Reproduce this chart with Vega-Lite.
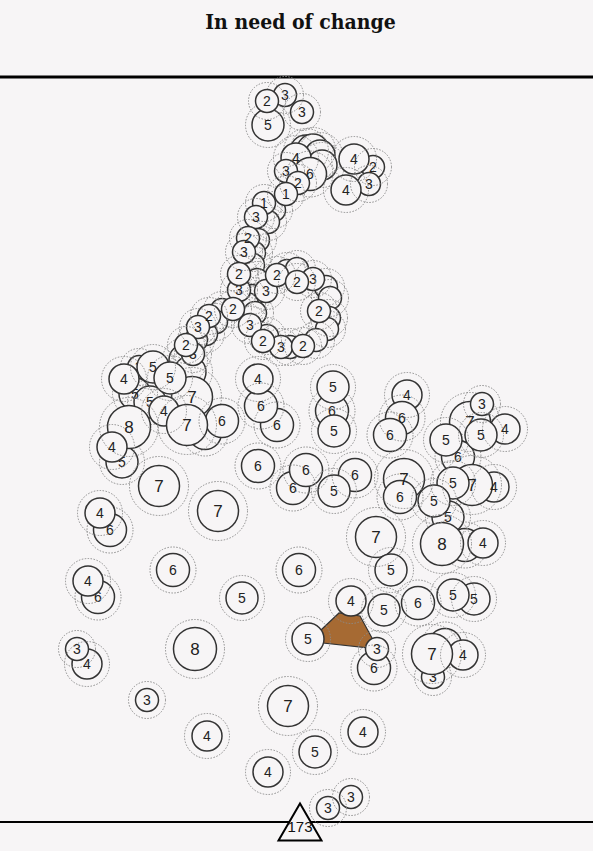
{
  "$schema": "https://vega.github.io/schema/vega-lite/v6.json",
  "width": 593,
  "height": 774,
  "autosize": "none",
  "padding": {"left": 0, "top": 77, "right": 0, "bottom": 0},
  "background": "#f7f5f6",
  "config": {"view": {"stroke": null}},
  "title": {"text": "In need of change", "font": "DejaVu Serif Condensed", "fontWeight": 900, "fontSize": 21, "anchor": "middle", "offset": 42, "dx": 4, "color": "#111"},
  "datasets": {
    "nodes": [
      {"x":285,"y":95,"v":3,"d":1},{"x":268,"y":125,"v":5,"d":1},{"x":302,"y":112,"v":3,"d":1},
      {"x":306,"y":151,"v":5,"d":-1},{"x":313,"y":150,"v":5,"d":-1},{"x":320,"y":155,"v":4,"d":-1},{"x":322,"y":165,"v":4,"d":-1},
      {"x":296,"y":158,"v":4,"d":1},{"x":310,"y":174,"v":6,"d":1},{"x":286,"y":171,"v":3,"d":1},
      {"x":373,"y":167,"v":2,"d":1},{"x":369,"y":184,"v":3,"d":1},{"x":354,"y":159,"v":4,"d":1},{"x":346,"y":190,"v":4,"d":1},
      {"x":274,"y":210,"v":2,"d":-1},{"x":268,"y":222,"v":2,"d":-1},{"x":258,"y":240,"v":2,"d":-1},{"x":254,"y":253,"v":2,"d":-1},{"x":253,"y":265,"v":2,"d":-1},
      {"x":264,"y":203,"v":1,"d":1},{"x":256,"y":217,"v":3,"d":1},{"x":248,"y":238,"v":2,"d":1},{"x":244,"y":252,"v":3,"d":1},{"x":239,"y":274,"v":2,"d":1},
      {"x":257,"y":280,"v":2,"d":-1},{"x":252,"y":296,"v":2,"d":-1},{"x":247,"y":304,"v":2,"d":-1},{"x":255,"y":313,"v":2,"d":-1},{"x":239,"y":290,"v":3,"d":0},
      {"x":287,"y":271,"v":2,"d":-1},{"x":297,"y":269,"v":1,"d":-1},{"x":313,"y":279,"v":3,"d":0},{"x":326,"y":287,"v":2,"d":-1},{"x":330,"y":298,"v":2,"d":-1},
      {"x":329,"y":318,"v":2,"d":-1},{"x":327,"y":329,"v":3,"d":-1},{"x":316,"y":340,"v":2,"d":-1},{"x":290,"y":347,"v":2,"d":-1},{"x":281,"y":347,"v":3,"d":0},
      {"x":267,"y":336,"v":2,"d":-1},{"x":250,"y":325,"v":3,"d":0},{"x":266,"y":291,"v":3,"d":0},
      {"x":277,"y":275,"v":2,"d":1},{"x":297,"y":282,"v":2,"d":1},{"x":319,"y":311,"v":2,"d":1},{"x":263,"y":341,"v":2,"d":1},{"x":303,"y":346,"v":2,"d":1},{"x":233,"y":309,"v":2,"d":1},
      {"x":222,"y":310,"v":2,"d":-1},{"x":216,"y":322,"v":2,"d":-1},{"x":206,"y":334,"v":2,"d":-1},{"x":196,"y":340,"v":2,"d":-1},{"x":193,"y":354,"v":3,"d":0},{"x":185,"y":360,"v":5,"d":-1},{"x":190,"y":372,"v":5,"d":-1},
      {"x":209,"y":316,"v":2,"d":1},{"x":198,"y":327,"v":3,"d":1},{"x":186,"y":345,"v":2,"d":1},
      {"x":139,"y":367,"v":3,"d":0},{"x":135,"y":394,"v":5,"d":0},{"x":150,"y":402,"v":5,"d":0},{"x":192,"y":397,"v":7,"d":0},{"x":205,"y":433,"v":6,"d":-1},{"x":122,"y":462,"v":5,"d":0},
      {"x":153,"y":367,"v":5,"d":1},{"x":124,"y":379,"v":4,"d":1},{"x":170,"y":378,"v":5,"d":1},{"x":129,"y":427,"v":8,"d":1},{"x":164,"y":411,"v":4,"d":1},{"x":222,"y":421,"v":6,"d":1},{"x":187,"y":425,"v":7,"d":1},{"x":112,"y":447,"v":4,"d":1},
      {"x":277,"y":425,"v":6,"d":1},{"x":261,"y":406,"v":6,"d":1},{"x":258,"y":379,"v":4,"d":1},
      {"x":332,"y":411,"v":6,"d":0},{"x":333,"y":387,"v":5,"d":1},{"x":334,"y":431,"v":5,"d":1},
      {"x":407,"y":395,"v":4,"d":1},{"x":402,"y":418,"v":6,"d":1},{"x":390,"y":435,"v":6,"d":1},
      {"x":258,"y":466,"v":6,"d":1},{"x":293,"y":488,"v":6,"d":1},{"x":306,"y":470,"v":6,"d":1},{"x":355,"y":475,"v":6,"d":1},{"x":334,"y":491,"v":5,"d":1},
      {"x":404,"y":479,"v":7,"d":1},{"x":400,"y":497,"v":6,"d":1},
      {"x":470,"y":422,"v":7,"d":0},{"x":458,"y":457,"v":6,"d":0},{"x":448,"y":517,"v":5,"d":0},{"x":465,"y":545,"v":6,"d":-1},{"x":445,"y":645,"v":6,"d":-1},{"x":433,"y":677,"v":3,"d":0},
      {"x":482,"y":404,"v":3,"d":1},{"x":505,"y":429,"v":4,"d":1},{"x":481,"y":435,"v":5,"d":1},{"x":446,"y":440,"v":5,"d":1},{"x":494,"y":487,"v":4,"d":1},{"x":472,"y":485,"v":7,"d":1},{"x":453,"y":483,"v":5,"d":1},{"x":434,"y":501,"v":5,"d":1},
      {"x":483,"y":543,"v":4,"d":1},{"x":442,"y":544,"v":8,"d":1},{"x":376,"y":537,"v":7,"d":1},{"x":391,"y":570,"v":5,"d":1},
      {"x":474,"y":599,"v":5,"d":1},{"x":453,"y":595,"v":5,"d":1},{"x":418,"y":603,"v":6,"d":1},{"x":384,"y":610,"v":5,"d":1},{"x":351,"y":601,"v":4,"d":1},{"x":308,"y":639,"v":5,"d":1},
      {"x":374,"y":668,"v":6,"d":1},{"x":377,"y":649,"v":3,"d":1},{"x":463,"y":655,"v":4,"d":1},{"x":432,"y":654,"v":7,"d":1},
      {"x":110,"y":530,"v":6,"d":0},{"x":98,"y":597,"v":6,"d":0},
      {"x":100,"y":513,"v":4,"d":1},{"x":88,"y":581,"v":4,"d":1},{"x":87,"y":664,"v":4,"d":1},{"x":77,"y":649,"v":3,"d":1},{"x":159,"y":486,"v":7,"d":1},{"x":218,"y":511,"v":7,"d":1},
      {"x":173,"y":570,"v":6,"d":1},{"x":299,"y":570,"v":6,"d":1},{"x":242,"y":598,"v":5,"d":1},{"x":195,"y":649,"v":8,"d":1},{"x":147,"y":700,"v":3,"d":1},{"x":288,"y":706,"v":7,"d":1},
      {"x":207,"y":736,"v":4,"d":1},{"x":363,"y":732,"v":4,"d":1},{"x":315,"y":752,"v":5,"d":1},{"x":268,"y":772,"v":4,"d":1},{"x":328,"y":808,"v":3,"d":1},{"x":351,"y":797,"v":3,"d":1},
      {"x":267,"y":101,"v":2,"d":2},{"x":298,"y":183,"v":2,"d":2},{"x":286,"y":194,"v":1,"d":2}
    ],
    "poly": [
      {"x":321,"y":630,"o":1},{"x":339,"y":613,"o":2},{"x":360,"y":616,"o":3},{"x":372,"y":638,"o":4},{"x":370,"y":648,"o":5},{"x":323,"y":643,"o":6}
    ],
    "top": [{"y":77}],
    "base": [{"y":822}],
    "total": [{"x":300,"y":822,"n":173}]
  },
  "layer": [
    {"data": {"name": "top"}, "mark": {"type": "rule", "color": "#000", "strokeWidth": 3},
     "encoding": {"y": {"field": "y", "type": "quantitative", "scale": {"domain": [77, 851], "nice": false, "zero": false, "reverse": true}, "axis": null}}},
    {"data": {"name": "base"}, "mark": {"type": "rule", "color": "#000", "strokeWidth": 2},
     "encoding": {"y": {"field": "y", "type": "quantitative", "scale": {"domain": [77, 851], "nice": false, "zero": false, "reverse": true}, "axis": null}}},
    {"data": {"name": "poly"}, "mark": {"type": "line", "filled": true, "interpolate": "linear-closed", "fill": "#a66a33", "stroke": "#333", "strokeWidth": 1.2},
     "encoding": {"x": {"field": "x", "type": "quantitative", "scale": {"domain": [0, 593], "nice": false, "zero": false}, "axis": null},
      "y": {"field": "y", "type": "quantitative", "scale": {"domain": [77, 851], "nice": false, "zero": false, "reverse": true}, "axis": null},
      "order": {"field": "o", "type": "quantitative"}}},

    {"data": {"name": "nodes"}, "transform": [{"filter": "datum.d == -1"}], "mark": {"type": "point", "shape": "circle", "filled": true, "fill": "#f7f5f6", "stroke": "#333", "strokeWidth": 1.5, "opacity": 1},
     "encoding": {"x": {"field": "x", "type": "quantitative", "axis": null}, "y": {"field": "y", "type": "quantitative", "axis": null},
      "size": {"field": "v", "type": "ordinal", "scale": {"type": "ordinal", "domain": [1,2,3,4,5,6,7,8], "range": [529,529,529,900,1024,1089,1681,1849]}, "legend": null}}},
    {"data": {"name": "nodes"}, "transform": [{"filter": "datum.d == -1"}], "mark": {"type": "point", "shape": "circle", "filled": false, "stroke": "#8c8c8c", "strokeWidth": 1, "strokeDash": [1.5, 1.5], "opacity": 1},
     "encoding": {"x": {"field": "x", "type": "quantitative", "axis": null}, "y": {"field": "y", "type": "quantitative", "axis": null},
      "size": {"field": "v", "type": "ordinal", "scale": {"type": "ordinal", "domain": [1,2,3,4,5,6,7,8], "range": [1369,1369,1369,2025,2025,2116,3481,3481]}, "legend": null}}},

    {"data": {"name": "nodes"}, "transform": [{"filter": "datum.d == 0"}], "mark": {"type": "point", "shape": "circle", "filled": true, "fill": "#f7f5f6", "stroke": "#333", "strokeWidth": 1.5, "opacity": 1},
     "encoding": {"x": {"field": "x", "type": "quantitative", "axis": null}, "y": {"field": "y", "type": "quantitative", "axis": null},
      "size": {"field": "v", "type": "ordinal", "scale": {"type": "ordinal", "domain": [1,2,3,4,5,6,7,8], "range": [529,529,529,900,1024,1089,1681,1849]}, "legend": null}}},
    {"data": {"name": "nodes"}, "transform": [{"filter": "datum.d == 0"}], "mark": {"type": "point", "shape": "circle", "filled": false, "stroke": "#8c8c8c", "strokeWidth": 1, "strokeDash": [1.5, 1.5], "opacity": 1},
     "encoding": {"x": {"field": "x", "type": "quantitative", "axis": null}, "y": {"field": "y", "type": "quantitative", "axis": null},
      "size": {"field": "v", "type": "ordinal", "scale": {"type": "ordinal", "domain": [1,2,3,4,5,6,7,8], "range": [1369,1369,1369,2025,2025,2116,3481,3481]}, "legend": null}}},
    {"data": {"name": "nodes"}, "transform": [{"filter": "datum.d == 0"}], "mark": {"type": "text", "font": "Liberation Sans", "color": "#222", "baseline": "middle", "align": "center", "dy": 1},
     "encoding": {"x": {"field": "x", "type": "quantitative", "axis": null}, "y": {"field": "y", "type": "quantitative", "axis": null},
      "text": {"field": "v", "type": "nominal"}, "size": {"field": "v", "type": "ordinal", "scale": {"type": "ordinal", "domain": [1,2,3,4,5,6,7,8], "range": [14,14,14,14,14,14,17,17]}, "legend": null}}},

    {"data": {"name": "nodes"}, "transform": [{"filter": "datum.d == 1"}], "mark": {"type": "point", "shape": "circle", "filled": true, "fill": "#f7f5f6", "stroke": "#333", "strokeWidth": 1.5, "opacity": 1},
     "encoding": {"x": {"field": "x", "type": "quantitative", "axis": null}, "y": {"field": "y", "type": "quantitative", "axis": null},
      "size": {"field": "v", "type": "ordinal", "scale": {"type": "ordinal", "domain": [1,2,3,4,5,6,7,8], "range": [529,529,529,900,1024,1089,1681,1849]}, "legend": null}}},
    {"data": {"name": "nodes"}, "transform": [{"filter": "datum.d == 1"}], "mark": {"type": "point", "shape": "circle", "filled": false, "stroke": "#8c8c8c", "strokeWidth": 1, "strokeDash": [1.5, 1.5], "opacity": 1},
     "encoding": {"x": {"field": "x", "type": "quantitative", "axis": null}, "y": {"field": "y", "type": "quantitative", "axis": null},
      "size": {"field": "v", "type": "ordinal", "scale": {"type": "ordinal", "domain": [1,2,3,4,5,6,7,8], "range": [1369,1369,1369,2025,2025,2116,3481,3481]}, "legend": null}}},
    {"data": {"name": "nodes"}, "transform": [{"filter": "datum.d == 1"}], "mark": {"type": "text", "font": "Liberation Sans", "color": "#222", "baseline": "middle", "align": "center", "dy": 1},
     "encoding": {"x": {"field": "x", "type": "quantitative", "axis": null}, "y": {"field": "y", "type": "quantitative", "axis": null},
      "text": {"field": "v", "type": "nominal"}, "size": {"field": "v", "type": "ordinal", "scale": {"type": "ordinal", "domain": [1,2,3,4,5,6,7,8], "range": [14,14,14,14,14,14,17,17]}, "legend": null}}},

    {"data": {"name": "nodes"}, "transform": [{"filter": "datum.d == 2"}], "mark": {"type": "point", "shape": "circle", "filled": true, "fill": "#f7f5f6", "stroke": "#333", "strokeWidth": 1.5, "opacity": 1},
     "encoding": {"x": {"field": "x", "type": "quantitative", "axis": null}, "y": {"field": "y", "type": "quantitative", "axis": null},
      "size": {"field": "v", "type": "ordinal", "scale": {"type": "ordinal", "domain": [1,2,3,4,5,6,7,8], "range": [529,529,529,900,1024,1089,1681,1849]}, "legend": null}}},
    {"data": {"name": "nodes"}, "transform": [{"filter": "datum.d == 2"}], "mark": {"type": "point", "shape": "circle", "filled": false, "stroke": "#8c8c8c", "strokeWidth": 1, "strokeDash": [1.5, 1.5], "opacity": 1},
     "encoding": {"x": {"field": "x", "type": "quantitative", "axis": null}, "y": {"field": "y", "type": "quantitative", "axis": null},
      "size": {"field": "v", "type": "ordinal", "scale": {"type": "ordinal", "domain": [1,2,3,4,5,6,7,8], "range": [1369,1369,1369,2025,2025,2116,3481,3481]}, "legend": null}}},
    {"data": {"name": "nodes"}, "transform": [{"filter": "datum.d == 2"}], "mark": {"type": "text", "font": "Liberation Sans", "color": "#222", "baseline": "middle", "align": "center", "dy": 1},
     "encoding": {"x": {"field": "x", "type": "quantitative", "axis": null}, "y": {"field": "y", "type": "quantitative", "axis": null},
      "text": {"field": "v", "type": "nominal"}, "size": {"field": "v", "type": "ordinal", "scale": {"type": "ordinal", "domain": [1,2,3,4,5,6,7,8], "range": [14,14,14,14,14,14,17,17]}, "legend": null}}},

    {"data": {"name": "total"}, "mark": {"type": "point", "shape": "triangle-up", "filled": true, "fill": "#f7f5f6", "stroke": "#000", "strokeWidth": 2, "size": 1849, "opacity": 1},
     "encoding": {"x": {"field": "x", "type": "quantitative", "axis": null}, "y": {"field": "y", "type": "quantitative", "axis": null}}},
    {"data": {"name": "total"}, "mark": {"type": "text", "font": "Liberation Sans", "fontSize": 15, "color": "#111", "baseline": "middle", "align": "center", "dy": 5},
     "encoding": {"x": {"field": "x", "type": "quantitative", "axis": null}, "y": {"field": "y", "type": "quantitative", "axis": null}, "text": {"field": "n", "type": "nominal"}}}
  ],
  "resolve": {"scale": {"size": "independent"}}
}
